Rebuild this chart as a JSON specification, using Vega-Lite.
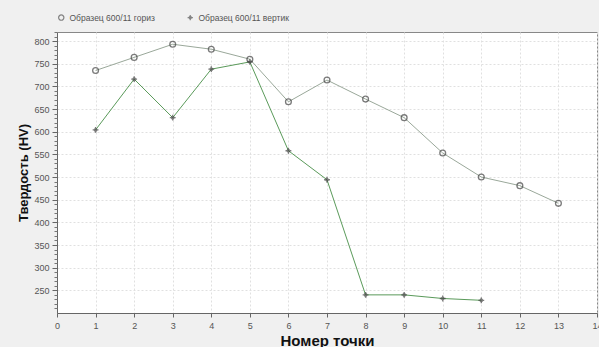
{
  "$schema": "https://vega.github.io/schema/vega-lite/v6.json",
  "width": 540,
  "height": 281,
  "autosize": {"type": "none"},
  "padding": {"left": 57, "top": 32, "right": 2, "bottom": 34},
  "background": "#f0f0f0",
  "config": {
    "view": {"fill": "white", "stroke": "#888", "strokeWidth": 1},
    "font": "Liberation Sans"
  },
  "data": {
    "values": [
      {"n": 1, "hv": 735, "s": "Образец 600/11 гориз"},
      {"n": 2, "hv": 764, "s": "Образец 600/11 гориз"},
      {"n": 3, "hv": 793, "s": "Образец 600/11 гориз"},
      {"n": 4, "hv": 782, "s": "Образец 600/11 гориз"},
      {"n": 5, "hv": 760, "s": "Образец 600/11 гориз"},
      {"n": 6, "hv": 666, "s": "Образец 600/11 гориз"},
      {"n": 7, "hv": 714, "s": "Образец 600/11 гориз"},
      {"n": 8, "hv": 672, "s": "Образец 600/11 гориз"},
      {"n": 9, "hv": 631, "s": "Образец 600/11 гориз"},
      {"n": 10, "hv": 553, "s": "Образец 600/11 гориз"},
      {"n": 11, "hv": 500, "s": "Образец 600/11 гориз"},
      {"n": 12, "hv": 481, "s": "Образец 600/11 гориз"},
      {"n": 13, "hv": 442, "s": "Образец 600/11 гориз"},
      {"n": 1, "hv": 604, "s": "Образец 600/11 вертик"},
      {"n": 2, "hv": 716, "s": "Образец 600/11 вертик"},
      {"n": 3, "hv": 631, "s": "Образец 600/11 вертик"},
      {"n": 4, "hv": 738, "s": "Образец 600/11 вертик"},
      {"n": 5, "hv": 754, "s": "Образец 600/11 вертик"},
      {"n": 6, "hv": 558, "s": "Образец 600/11 вертик"},
      {"n": 7, "hv": 494, "s": "Образец 600/11 вертик"},
      {"n": 8, "hv": 240, "s": "Образец 600/11 вертик"},
      {"n": 9, "hv": 240, "s": "Образец 600/11 вертик"},
      {"n": 10, "hv": 232, "s": "Образец 600/11 вертик"},
      {"n": 11, "hv": 228, "s": "Образец 600/11 вертик"}
    ]
  },
  "resolve": {"axis": {"y": "independent"}},
  "layer": [
    {
      "mark": {"type": "line", "strokeWidth": 1},
      "encoding": {
        "x": {
          "field": "n", "type": "quantitative",
          "scale": {"domain": [0, 14], "nice": false},
          "axis": {
            "values": [0,1,2,3,4,5,6,7,8,9,10,11,12,13,14],
            "labelOverlap": false, "labelFlush": false,
            "title": "Номер точки",
            "titleFont": "Liberation Sans", "titleFontSize": 15, "titleFontWeight": "bold", "titleColor": "#111",
            "titlePadding": 3,
            "labelFontSize": 9, "labelColor": "#555", "labelPadding": 4,
            "domainColor": "#666", "tickColor": "#666", "tickSize": 4,
            "grid": true, "gridColor": "#e0e0e0", "gridDash": [2, 2]
          }
        },
        "y": {
          "field": "hv", "type": "quantitative",
          "scale": {"domain": [200, 820], "nice": false, "zero": false},
          "axis": {
            "values": [250,300,350,400,450,500,550,600,650,700,750,800],
            "title": "Твердость (HV)",
            "titleFont": "Liberation Sans", "titleFontSize": 13, "titleFontWeight": "bold", "titleColor": "#111",
            "titlePadding": 3,
            "labelFontSize": 9, "labelColor": "#555", "labelPadding": 3,
            "domainColor": "#666", "tickColor": "#666", "tickSize": 5,
            "grid": true, "gridColor": "#e0e0e0", "gridDash": [2, 2]
          }
        },
        "detail": {"field": "s", "type": "nominal"},
        "color": {
          "condition": {"test": "datum.s === 'Образец 600/11 вертик'", "value": "#5a9a5a"},
          "value": "#9aa89a"
        }
      }
    },
    {
      "mark": {"type": "point", "filled": false, "strokeWidth": 1.3, "size": 34, "color": "#444"},
      "encoding": {
        "x": {
          "field": "n", "type": "quantitative",
          "scale": {"domain": [0, 14], "nice": false},
          "axis": {
            "values": [0,1,2,3,4,5,6,7,8,9,10,11,12,13,14],
            "labelOverlap": false, "labelFlush": false,
            "title": "Номер точки",
            "titleFont": "Liberation Sans", "titleFontSize": 15, "titleFontWeight": "bold", "titleColor": "#111",
            "titlePadding": 3,
            "labelFontSize": 9, "labelColor": "#555", "labelPadding": 4,
            "domainColor": "#666", "tickColor": "#666", "tickSize": 4,
            "grid": true, "gridColor": "#e0e0e0", "gridDash": [2, 2]
          }
        },
        "y": {
          "field": "hv", "type": "quantitative",
          "scale": {"domain": [200, 820], "nice": false, "zero": false},
          "axis": {
            "orient": "left",
            "values": [210,220,230,240,260,270,280,290,310,320,330,340,360,370,380,390,410,420,430,440,460,470,480,490,510,520,530,540,560,570,580,590,610,620,630,640,660,670,680,690,710,720,730,740,760,770,780,790,810,820],
            "labels": false, "title": null, "grid": false, "domain": false,
            "tickColor": "#777", "tickSize": 3
          }
        },
        "shape": {
          "field": "s", "type": "nominal",
          "scale": {"domain": ["Образец 600/11 гориз", "Образец 600/11 вертик"], "range": ["circle", "M-1,0L1,0M0,-1L0,1M-0.45,-0.45L0.45,0.45M-0.45,0.45L0.45,-0.45"]},
          "legend": {
            "title": null, "orient": "none", "direction": "horizontal",
            "legendX": 0, "legendY": -19,
            "labelFontSize": 8.5, "labelColor": "#555", "symbolSize": 28,
            "symbolStrokeColor": "#555", "symbolFillColor": "transparent",
            "symbolStrokeWidth": 1.2, "columnPadding": 30, "labelOffset": 4
          }
        }
      }
    }
  ]
}
